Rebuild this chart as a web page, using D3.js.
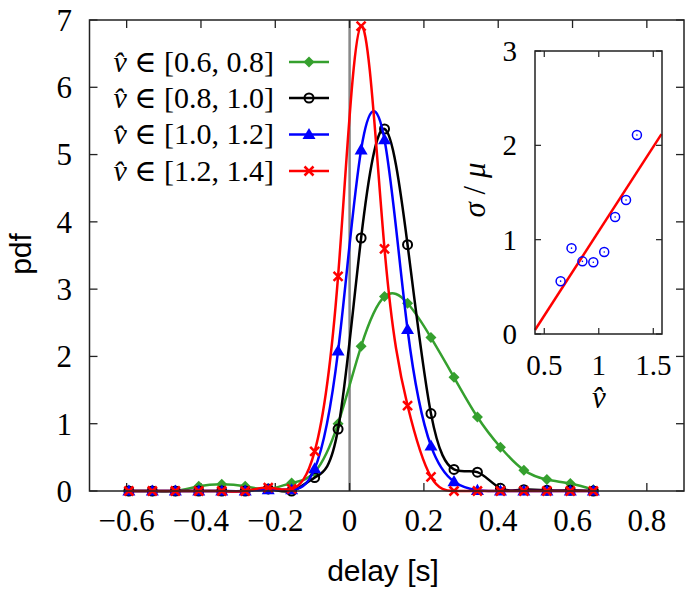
<!DOCTYPE html>
<html>
<head>
<meta charset="utf-8">
<script src="https://cdn.jsdelivr.net/npm/d3@7/dist/d3.min.js"></script>
<style>
  html, body { margin: 0; padding: 0; background: #fff; }
  svg { display: block; }
</style>
</head>
<body>
<svg id="chart" width="685" height="589"></svg>
<script>
// ---------- data ----------
const delay = [-0.594,-0.531,-0.469,-0.406,-0.344,-0.281,-0.219,-0.156,-0.094,-0.031,
               0.031,0.094,0.156,0.219,0.281,0.344,0.406,0.469,0.531,0.594,0.656];
const pdf06 = [0,0,0,0.07,0.10,0.07,0.03,0.12,0.28,1.00,2.15,2.89,2.79,2.28,1.69,1.10,0.65,0.31,0.17,0.11,0.02];
const pdf08 = [0,0,0,0,0,0,0.03,0,0.20,0.92,3.76,5.38,3.66,1.15,0.32,0.28,0.04,0.02,0.01,0.01,0];
const pdf10 = [0,0,0,0,0,0,0.02,0.02,0.33,2.08,5.07,5.22,2.40,0.67,0.14,0.01,0,0,0,0,0];
const pdf12 = [0,0,0,0,0,0,0.05,0.03,0.59,3.19,6.91,3.60,1.27,0.21,0,0,0,0,0,0,0];
const seriesLabels = ["[0.6, 0.8]", "[0.8, 1.0]", "[1.0, 1.2]", "[1.2, 1.4]"];
const xTicks = [-0.6,-0.4,-0.2,0,0.2,0.4,0.6,0.8];
const yTicks = [0,1,2,3,4,5,6,7];

const vhat  = [0.65,0.75,0.85,0.95,1.05,1.15,1.25,1.35];
const ratio = [0.56,0.91,0.77,0.76,0.87,1.24,1.42,2.11];
const fitSlope = 1.79, fitIntercept = -0.70;
const insetXTicks = [0.5,1,1.5];
const insetYTicks = [0,1,2,3];

// ---------- setup ----------
const svg = d3.select("#chart");
const serif = "'Liberation Serif', 'DejaVu Serif', serif";
const sans = "'Liberation Sans', Arial, sans-serif";
const fmt = d => d === 0 ? "0" : (d < 0 ? "\u2212" + Math.abs(d) : String(d));

const L = 89.5, R = 684, T = 20, B = 491;
const x = d3.scaleLinear().domain([-0.7, 0.9]).range([L, R]);
const y = d3.scaleLinear().domain([0, 7]).range([B, T]);

// zero line
svg.append("line").attr("x1", x(0)).attr("x2", x(0)).attr("y1", T).attr("y2", B)
  .attr("stroke", "#888").attr("stroke-width", 2.5);

// frame + ticks
const axisG = svg.append("g");
const tl = 8;
xTicks.forEach(t => {
  axisG.append("line").attr("x1", x(t)).attr("x2", x(t)).attr("y1", B).attr("y2", B - tl).attr("stroke", "#222").attr("stroke-width", 1.3);
  axisG.append("line").attr("x1", x(t)).attr("x2", x(t)).attr("y1", T).attr("y2", T + tl).attr("stroke", "#222").attr("stroke-width", 1.3);
  axisG.append("text").attr("x", x(t)).attr("y", 531).attr("text-anchor", "middle")
    .attr("font-family", serif).attr("font-size", 31).text(fmt(t));
});
yTicks.forEach(t => {
  axisG.append("line").attr("x1", L).attr("x2", L + tl).attr("y1", y(t)).attr("y2", y(t)).attr("stroke", "#222").attr("stroke-width", 1.3);
  axisG.append("line").attr("x1", R).attr("x2", R - tl).attr("y1", y(t)).attr("y2", y(t)).attr("stroke", "#222").attr("stroke-width", 1.3);
  axisG.append("text").attr("x", 72).attr("y", y(t)).attr("dy", "0.35em").attr("text-anchor", "end")
    .attr("font-family", serif).attr("font-size", 31).text(fmt(t));
});

// axis titles
svg.append("text").attr("x", 383).attr("y", 581).attr("text-anchor", "middle")
  .attr("font-family", sans).attr("font-size", 30).text("delay [s]");
svg.append("text").attr("transform", "translate(31,254) rotate(-90)").attr("text-anchor", "middle")
  .attr("font-family", sans).attr("font-size", 30).text("pdf");

// ---------- series ----------
const series = [
  { vals: pdf06, color: "#35a02e", marker: "diamond" },
  { vals: pdf08, color: "#000000", marker: "circle" },
  { vals: pdf10, color: "#0000ff", marker: "triangle" },
  { vals: pdf12, color: "#ff0000", marker: "cross" }
];

const line = d3.line().x(d => x(d[0])).y(d => y(d[1])).curve(d3.curveNatural);

function drawMarker(g, type, cx, cy, color) {
  if (type === "diamond") {
    const s = 5.5;
    g.append("path").attr("d", `M${cx},${cy - s}L${cx + s},${cy}L${cx},${cy + s}L${cx - s},${cy}Z`).attr("fill", color);
  } else if (type === "circle") {
    g.append("circle").attr("cx", cx).attr("cy", cy).attr("r", 4.5).attr("fill", "none").attr("stroke", color).attr("stroke-width", 2);
  } else if (type === "triangle") {
    const s = 6.5;
    g.append("path").attr("d", `M${cx},${cy - s}L${cx + s},${cy + s * 0.7}L${cx - s},${cy + s * 0.7}Z`).attr("fill", color);
  } else if (type === "cross") {
    const s = 4.5;
    g.append("path").attr("d", `M${cx - s},${cy - s}L${cx + s},${cy + s}M${cx - s},${cy + s}L${cx + s},${cy - s}`)
      .attr("stroke", color).attr("stroke-width", 2.5).attr("fill", "none");
  }
}

series.forEach(s => {
  const pts = delay.map((d, i) => [d, s.vals[i]]);
  const g = svg.append("g");
  g.append("path").attr("d", line(pts)).attr("fill", "none").attr("stroke", s.color).attr("stroke-width", 2.5);
  pts.forEach(p => drawMarker(g, s.marker, x(p[0]), y(p[1]), s.color));
});

// frame on top
svg.append("rect").attr("x", L).attr("y", T).attr("width", R - L).attr("height", B - T)
  .attr("fill", "none").attr("stroke", "#222").attr("stroke-width", 1.5);

// ---------- legend ----------
const legY = [62, 98, 134.5, 171];
series.forEach((s, i) => {
  const t = svg.append("text").attr("x", 274).attr("y", legY[i]).attr("dy", "0.33em").attr("text-anchor", "end")
    .attr("font-family", serif).attr("font-size", 30);
  t.append("tspan").attr("font-style", "italic").text("v\u0302");
  t.append("tspan").text(" \u2208 " + seriesLabels[i]);
  svg.append("line").attr("x1", 289).attr("x2", 329).attr("y1", legY[i]).attr("y2", legY[i])
    .attr("stroke", s.color).attr("stroke-width", 2.5);
  drawMarker(svg, s.marker, 309, legY[i], s.color);
});

// ---------- inset ----------
const iL = 535, iR = 662, iT = 51, iB = 334;
const ix = d3.scaleLinear().domain([0.415, 1.58]).range([iL, iR]);
const iy = d3.scaleLinear().domain([0, 3]).range([iB, iT]);
const ig = svg.append("g");
ig.append("rect").attr("x", iL).attr("y", iT).attr("width", iR - iL).attr("height", iB - iT).attr("fill", "#fff");
const itl = 6;
insetXTicks.forEach(t => {
  ig.append("line").attr("x1", ix(t)).attr("x2", ix(t)).attr("y1", iB).attr("y2", iB - itl).attr("stroke", "#222").attr("stroke-width", 1.2);
  ig.append("line").attr("x1", ix(t)).attr("x2", ix(t)).attr("y1", iT).attr("y2", iT + itl).attr("stroke", "#222").attr("stroke-width", 1.2);
  ig.append("text").attr("x", ix(t)).attr("y", 375).attr("text-anchor", "middle")
    .attr("font-family", serif).attr("font-size", 29).text(String(t));
});
insetYTicks.forEach(t => {
  ig.append("line").attr("x1", iL).attr("x2", iL + itl).attr("y1", iy(t)).attr("y2", iy(t)).attr("stroke", "#222").attr("stroke-width", 1.2);
  ig.append("line").attr("x1", iR).attr("x2", iR - itl).attr("y1", iy(t)).attr("y2", iy(t)).attr("stroke", "#222").attr("stroke-width", 1.2);
  ig.append("text").attr("x", 517).attr("y", iy(t)).attr("dy", "0.35em").attr("text-anchor", "end")
    .attr("font-family", serif).attr("font-size", 29).text(String(t));
});
// fit line
const fx = ix.domain();
const fitPts = [[fx[0], fitSlope * fx[0] + fitIntercept], [1.575, fitSlope * 1.575 + fitIntercept]];
ig.append("path").attr("d", d3.line().x(d => ix(d[0])).y(d => iy(d[1]))(fitPts))
  .attr("stroke", "#ff0000").attr("stroke-width", 2.5).attr("fill", "none");
vhat.forEach((v, i) => {
  ig.append("circle").attr("cx", ix(v)).attr("cy", iy(ratio[i])).attr("r", 4.5).attr("fill", "none").attr("stroke", "#0000ff").attr("stroke-width", 1.5);
  ig.append("circle").attr("cx", ix(v)).attr("cy", iy(ratio[i])).attr("r", 0.8).attr("fill", "#0000ff");
});
ig.append("rect").attr("x", iL).attr("y", iT).attr("width", iR - iL).attr("height", iB - iT)
  .attr("fill", "none").attr("stroke", "#222").attr("stroke-width", 1.5);
// inset labels
const yl = ig.append("text").attr("transform", "translate(485,190) rotate(-90)").attr("text-anchor", "middle")
  .attr("font-family", serif).attr("font-size", 31);
yl.append("tspan").attr("font-style", "italic").text("\u03c3");
yl.append("tspan").text(" / ");
yl.append("tspan").attr("font-style", "italic").text("\u03bc");
ig.append("text").attr("x", 599).attr("y", 408).attr("text-anchor", "middle")
  .attr("font-family", serif).attr("font-size", 31).attr("font-style", "italic").text("v\u0302");
</script>
</body>
</html>
